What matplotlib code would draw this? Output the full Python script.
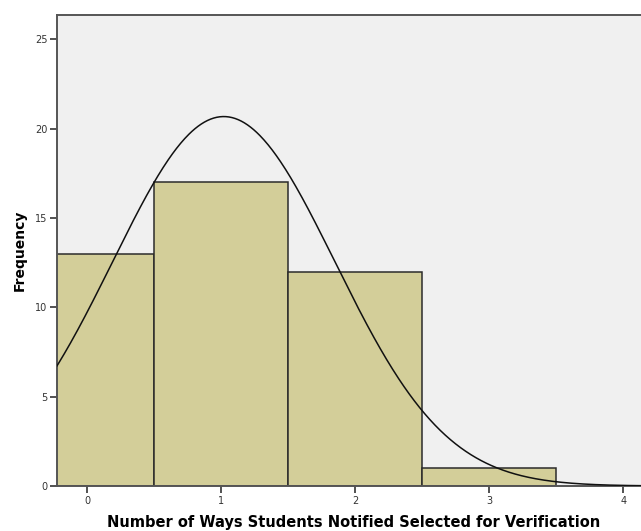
import numpy as np
import matplotlib
matplotlib.use("Agg")
import matplotlib.pyplot as plt

# Histogram bins (number of ways students were notified) and counts
bin_centers = [0, 1, 2, 3]
counts = [13, 17, 12, 1]
bin_width = 1.0

# Normal curve parameters for the sample
n_total = sum(counts)
mean_val = 1.02
sd_val = 0.83

x_ticks = [0, 1, 2, 3, 4]
y_ticks = [0, 5, 10, 15, 20, 25]

fig = plt.figure(figsize=(6.41, 5.31), dpi=100)
ax = fig.add_axes([57 / 641, 45 / 531, 593 / 641, 471 / 531])
ax.set_facecolor("#F0F0F0")

ax.bar(bin_centers, counts, width=bin_width, color="#D3CE99",
       edgecolor="#2b2b2b", linewidth=1.1, zorder=2)

xs = np.linspace(-0.3, 4.3, 600)
ys = n_total * bin_width / (sd_val * np.sqrt(2 * np.pi)) * np.exp(-0.5 * ((xs - mean_val) / sd_val) ** 2)
ax.plot(xs, ys, color="#111111", linewidth=1.1, zorder=3)

ax.set_xlim(-0.224, 4.2)
ax.set_ylim(0, 26.35)
ax.set_xticks(x_ticks)
ax.set_yticks(y_ticks)
ax.tick_params(axis="both", direction="out", length=5, width=1.2, color="#333333",
               labelsize=7, labelcolor="#333333", pad=2)

for side in ("left", "bottom", "top", "right"):
    ax.spines[side].set_color("#555555")
    ax.spines[side].set_linewidth(1.4)

ax.set_ylabel("Frequency", fontsize=10, fontweight="bold", labelpad=6)
ax.set_xlabel("Number of Ways Students Notified Selected for Verification",
              fontsize=10.5, fontweight="bold", labelpad=7)

fig.savefig("out.png", dpi=100)
